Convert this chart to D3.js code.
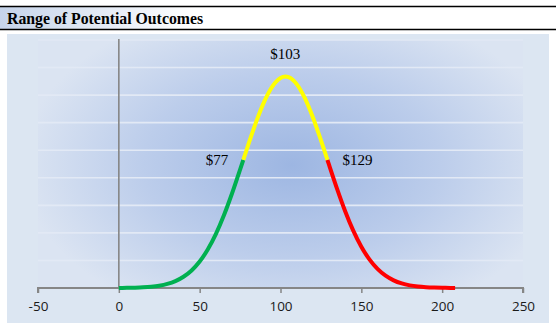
<!DOCTYPE html>
<html>
<head>
<meta charset="utf-8">
<script src="https://cdn.jsdelivr.net/npm/d3@7"></script>
<style>
  html, body { margin: 0; padding: 0; background: #ffffff; }
  svg { display: block; }
</style>
</head>
<body>
<svg id="chart" width="556" height="327"></svg>
<script>
// Outcome values (x) and their probability density (y)
const outcomes = [0, 5, 10, 15, 20, 25, 30, 35, 40, 45, 50, 55, 60, 65, 70, 75, 77,
  80, 85, 90, 95, 100, 103, 105, 110, 115, 120, 125, 129, 130, 135, 140, 145, 150,
  155, 160, 165, 170, 175, 180, 185, 190, 195, 200, 205, 208];
const density = [0.0000060, 0.0000126, 0.0000256, 0.0000499, 0.0000941, 0.000170,
  0.000298, 0.000502, 0.000815, 0.001274, 0.001922, 0.002793, 0.003908, 0.005274,
  0.006857, 0.008593, 0.009306, 0.010377, 0.012074, 0.013541, 0.014635, 0.015242,
  0.015344, 0.015299, 0.014798, 0.013794, 0.012392, 0.010726, 0.009306, 0.008949,
  0.007195, 0.005574, 0.004163, 0.002995, 0.002077, 0.001388, 0.000894, 0.000555,
  0.000332, 0.000191, 0.000106, 0.0000568, 0.0000293, 0.0000146, 0.0000070, 0.0000050];

// Band boundaries: low / expected / high outcome
const bandLow = 77;
const bandMid = 103;
const bandHigh = 129;

const xTicks = [-50, 0, 50, 100, 150, 200, 250];
const yGrid = [0.002, 0.004, 0.006, 0.008, 0.010, 0.012, 0.014, 0.016, 0.018];
const titleText = "Range of Potential Outcomes";

const svg = d3.select("#chart");
const W = 556, H = 327;
const plot = { left: 38, right: 523, top: 40, bottom: 288 };

const x = d3.scaleLinear().domain([-50, 250]).range([plot.left, plot.right]);
const y = d3.scaleLinear().domain([0, 0.018]).range([plot.bottom, plot.top]);

const defs = svg.append("defs");
const tg = defs.append("linearGradient").attr("id", "titleGrad")
  .attr("x1", "0").attr("x2", "1").attr("y1", "0").attr("y2", "0");
tg.append("stop").attr("offset", "0").attr("stop-color", "#c6d4ea");
tg.append("stop").attr("offset", "0.35").attr("stop-color", "#ffffff");
tg.append("stop").attr("offset", "1").attr("stop-color", "#ffffff");

const rg = defs.append("radialGradient").attr("id", "plotGrad")
  .attr("gradientUnits", "userSpaceOnUse")
  .attr("cx", 292).attr("cy", 165).attr("r", 270)
  .attr("gradientTransform", "translate(292,165) scale(1,0.62) translate(-292,-165)");
rg.append("stop").attr("offset", "0").attr("stop-color", "#9db6e2");
rg.append("stop").attr("offset", "0.55").attr("stop-color", "#bccdeb");
rg.append("stop").attr("offset", "1").attr("stop-color", "#dbe4f2");

// Title band
svg.append("rect").attr("x", 0).attr("y", 6).attr("width", W).attr("height", 23)
  .attr("fill", "url(#titleGrad)");
svg.append("line").attr("x1", 0).attr("x2", W).attr("y1", 6.5).attr("y2", 6.5)
  .attr("stroke", "#000").attr("stroke-width", 1.3);
svg.append("line").attr("x1", 0).attr("x2", W).attr("y1", 29.5).attr("y2", 29.5)
  .attr("stroke", "#000").attr("stroke-width", 1.3);
svg.append("text").attr("x", 7).attr("y", 23.5)
  .attr("font-family", "'Liberation Serif', 'Times New Roman', serif")
  .attr("font-weight", "bold").attr("font-size", 15.8).attr("fill", "#000")
  .text(titleText);

// Chart area and plot area backgrounds
svg.append("rect").attr("x", 7).attr("y", 34).attr("width", 542).attr("height", 289)
  .attr("fill", "#dce6f2");
svg.append("rect").attr("x", plot.left).attr("y", plot.top)
  .attr("width", plot.right - plot.left).attr("height", plot.bottom - plot.top)
  .attr("fill", "url(#plotGrad)");

// Horizontal gridlines
svg.append("g").selectAll("line").data(yGrid).join("line")
  .attr("x1", plot.left).attr("x2", plot.right)
  .attr("y1", d => y(d)).attr("y2", d => y(d))
  .attr("stroke", "#e2e9f5").attr("stroke-width", 1.6);

// Vertical axis at zero
svg.append("line").attr("x1", x(0)).attr("x2", x(0))
  .attr("y1", plot.top - 1).attr("y2", plot.bottom)
  .attr("stroke", "#868686").attr("stroke-width", 1.6);

// Horizontal axis
const xAxis = d3.axisBottom(x).tickValues(xTicks).tickSize(5).tickPadding(8)
  .tickFormat(d => String(d));
const gx = svg.append("g").attr("transform", `translate(0,${plot.bottom})`).call(xAxis);
gx.select(".domain").attr("stroke", "#868686").attr("stroke-width", 2)
  .attr("d", `M${plot.left},5V0H${plot.right}V5`);
gx.selectAll(".tick line").attr("stroke", "#868686").attr("stroke-width", 1.5);
gx.selectAll(".tick text")
  .attr("font-family", "'Open Sans', 'Liberation Sans', sans-serif")
  .attr("font-size", 13.5).attr("fill", "#1a1a1a");

// Density curve, coloured by band
const pts = outcomes.map((v, i) => [v, density[i]]);
const line = d3.line().x(d => x(d[0])).y(d => y(d[1])).curve(d3.curveMonotoneX);
const bands = [
  { lo: 0, hi: bandLow, color: "#00b050" },
  { lo: bandHigh, hi: 1000, color: "#ff0000" },
  { lo: bandLow, hi: bandHigh, color: "#ffff00" }
];
svg.append("g").selectAll("path").data(bands).join("path")
  .attr("d", b => line(pts.filter(p => p[0] >= b.lo && p[0] <= b.hi)))
  .attr("fill", "none").attr("stroke", b => b.color)
  .attr("stroke-width", 4).attr("stroke-linejoin", "round");

// Value labels
const labelFont = "'Liberation Serif', 'Times New Roman', serif";
const idx = v => outcomes.indexOf(v);
svg.append("text").attr("x", x(bandMid)).attr("y", y(density[idx(bandMid)]) - 18)
  .attr("text-anchor", "middle").attr("font-family", labelFont).attr("font-size", 15)
  .attr("fill", "#000").text("$" + bandMid);
svg.append("text").attr("x", x(bandLow) - 15).attr("y", y(density[idx(bandLow)]) + 5)
  .attr("text-anchor", "end").attr("font-family", labelFont).attr("font-size", 15)
  .attr("fill", "#000").text("$" + bandLow);
svg.append("text").attr("x", x(bandHigh) + 15).attr("y", y(density[idx(bandHigh)]) + 5)
  .attr("text-anchor", "start").attr("font-family", labelFont).attr("font-size", 15)
  .attr("fill", "#000").text("$" + bandHigh);
</script>
</body>
</html>
